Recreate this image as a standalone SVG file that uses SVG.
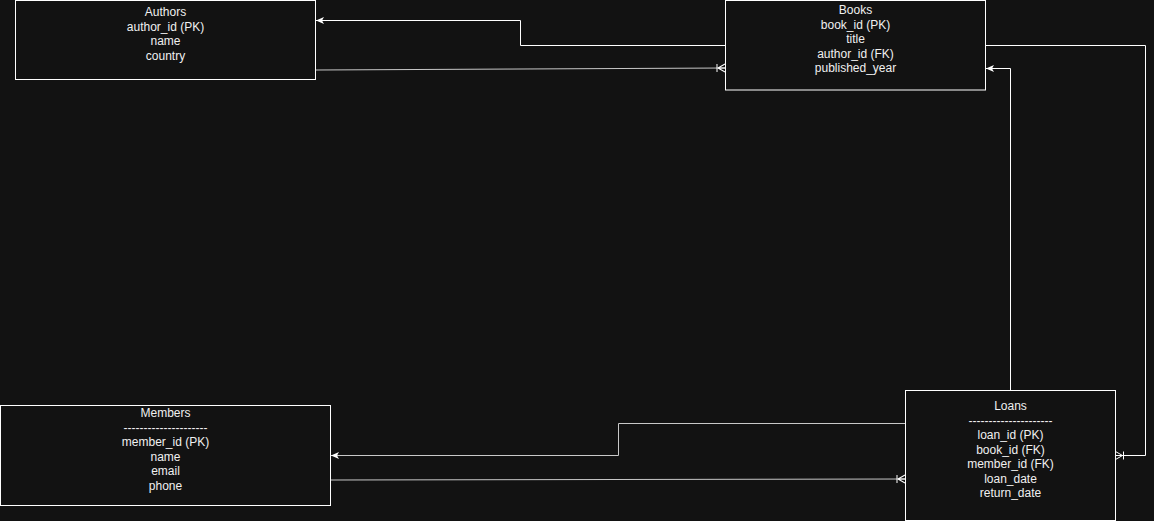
<svg xmlns="http://www.w3.org/2000/svg" width="1154" height="521" viewBox="0 0 1154 521">
  <defs>
    <style>
      .node rect { fill: #121212; stroke: #ffffff; stroke-width: 1; }
      .node text { font-family: "Liberation Sans", Arial, Helvetica, sans-serif; font-size: 12px; fill: #f0f0f0; text-anchor: middle; }
      .conn { fill: none; stroke: #ffffff; stroke-width: 1; }
      .conn.dim { stroke: #c8c8c8; }
    </style>
    <marker id="arrow" markerUnits="userSpaceOnUse" markerWidth="10" markerHeight="10" viewBox="0 0 10 10" refX="8" refY="5" orient="auto">
      <path d="M0,1.5 L8,5 L0,8.5 L2,5 Z" fill="#ffffff"/>
    </marker>
    <marker id="oneMany" markerUnits="userSpaceOnUse" markerWidth="12" markerHeight="12" viewBox="0 0 12 12" refX="10" refY="6" orient="auto">
      <path d="M2,2 V10 M3,6 L10,2 M3,6 L10,6 M3,6 L10,10" fill="none" stroke="#ffffff" stroke-width="1"/>
    </marker>
  </defs>
  <rect x="0" y="0" width="1154" height="521" fill="#121212"/>

  <g id="connectors">
    <path id="books-authors" class="conn" d="M725,45.5 H520.5 V20.5 H316" marker-end="url(#arrow)"/>
    <path id="authors-books" class="conn dim" d="M315.5,70 L725,68" marker-end="url(#oneMany)"/>
    <path id="loans-books" class="conn" d="M1010.5,390 V68.5 H986" marker-end="url(#arrow)"/>
    <path id="books-loans" class="conn" d="M985.5,45.5 H1145.5 V455.5 H1115.5" marker-end="url(#oneMany)"/>
    <path id="loans-members" class="conn dim" d="M905,423.5 H618.5 V455.5 H331" marker-end="url(#arrow)"/>
    <path id="members-loans" class="conn dim" d="M330.5,480 L905,479" marker-end="url(#oneMany)"/>
  </g>

  <g id="authors" class="node">
    <rect x="15.5" y="0.5" width="300" height="79"/>
    <text x="165.5" y="16">Authors</text>
    <text x="165.5" y="30.5">author_id (PK)</text>
    <text x="165.5" y="45">name</text>
    <text x="165.5" y="59.5">country</text>
  </g>

  <g id="books" class="node">
    <rect x="725.5" y="0.5" width="260" height="89.5"/>
    <text x="855.5" y="14">Books</text>
    <text x="855.5" y="28.5">book_id (PK)</text>
    <text x="855.5" y="43">title</text>
    <text x="855.5" y="57.5">author_id (FK)</text>
    <text x="855.5" y="72">published_year</text>
  </g>

  <g id="members" class="node">
    <rect x="0.5" y="405.5" width="330" height="100"/>
    <text x="165.5" y="417">Members</text>
    <text x="165.5" y="431.5">---------------------</text>
    <text x="165.5" y="446">member_id (PK)</text>
    <text x="165.5" y="460.5">name</text>
    <text x="165.5" y="475">email</text>
    <text x="165.5" y="489.5">phone</text>
  </g>

  <g id="loans" class="node">
    <rect x="905.5" y="390.5" width="210" height="130"/>
    <text x="1010.5" y="410">Loans</text>
    <text x="1010.5" y="424.5">---------------------</text>
    <text x="1010.5" y="439">loan_id (PK)</text>
    <text x="1010.5" y="453.5">book_id (FK)</text>
    <text x="1010.5" y="468">member_id (FK)</text>
    <text x="1010.5" y="482.5">loan_date</text>
    <text x="1010.5" y="497">return_date</text>
  </g>
</svg>
